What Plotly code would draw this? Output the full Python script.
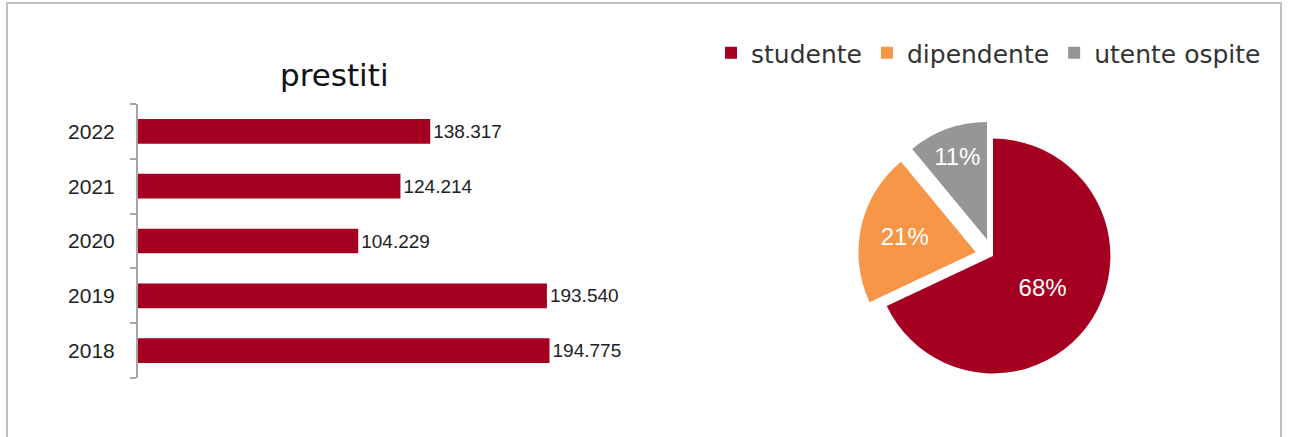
import plotly.graph_objects as go

years = ["2018", "2019", "2020", "2021", "2022"]
loans = [194775, 193540, 104229, 124214, 138317]
loan_labels = [f"{v:,}".replace(",", ".") for v in loans]

user_types = ["studente", "dipendente", "utente ospite"]
user_shares = [68, 21, 11]
user_pull = [0, 0.15, 0.15]

RED = "#a50021"
ORANGE = "#f79646"
GREY = "#969696"

W, H = 1289, 437

fig = go.Figure()

fig.add_trace(go.Bar(
    y=years, x=loans, orientation="h",
    marker=dict(color=RED, line=dict(width=0)),
    width=0.45,
    text=loan_labels, textposition="outside",
    textfont=dict(family="Liberation Sans", size=19, color="#222222"),
    cliponaxis=False, showlegend=False, hoverinfo="skip",
))

fig.add_trace(go.Pie(
    labels=user_types, values=user_shares, pull=user_pull,
    sort=False, direction="clockwise", rotation=0,
    marker=dict(colors=[RED, ORANGE, GREY], line=dict(width=0)),
    texttemplate="%{percent:.0%}", textposition="inside",
    insidetextfont=dict(family="Liberation Sans", size=24, color="white"),
    domain=dict(x=[858 / W, 1128 / W], y=[1 - 391 / H, 1 - 121 / H]),
    showlegend=True, hoverinfo="skip",
))

fig.update_xaxes(
    domain=[138 / W, 700 / W], range=[0, 266000],
    visible=False, showgrid=False, zeroline=False,
)
fig.update_yaxes(
    domain=[1 - 378 / H, 1 - 104 / H], type="category",
    showline=True, linecolor="#a6a6a6", linewidth=2,
    ticks="outside", ticklen=6, tickcolor="#a6a6a6", tickwidth=2,
    tickson="boundaries", ticklabelstandoff=17,
    tickfont=dict(family="Liberation Sans", size=21, color="#222222"),
    showgrid=False, zeroline=False,
)

fig.add_annotation(
    text="prestiti", x=334 / W, y=1 - 75 / H, xref="paper", yref="paper",
    xanchor="center", yanchor="middle", showarrow=False,
    font=dict(family="DejaVu Sans", size=31, color="#111111"),
)

fig.add_shape(
    type="rect", xref="paper", yref="paper",
    x0=7 / W, x1=1281 / W, y0=-0.05, y1=1 - 3 / H,
    line=dict(color="#bfbfbf", width=2), fillcolor="rgba(0,0,0,0)",
)

fig.update_layout(
    width=W, height=H, margin=dict(l=0, r=0, t=0, b=0),
    paper_bgcolor="white", plot_bgcolor="white",
    legend=dict(
        orientation="h", x=711 / W, y=1 - 30 / H, xanchor="left", yanchor="top",
        font=dict(family="DejaVu Sans", size=25, color="#333333"),
        itemwidth=30, bgcolor="rgba(0,0,0,0)",
    ),
)

fig.write_html(
    "out.html",
    config={"displayModeBar": False},
    post_script="document.body.style.margin='0';document.body.style.overflow='hidden';",
)
